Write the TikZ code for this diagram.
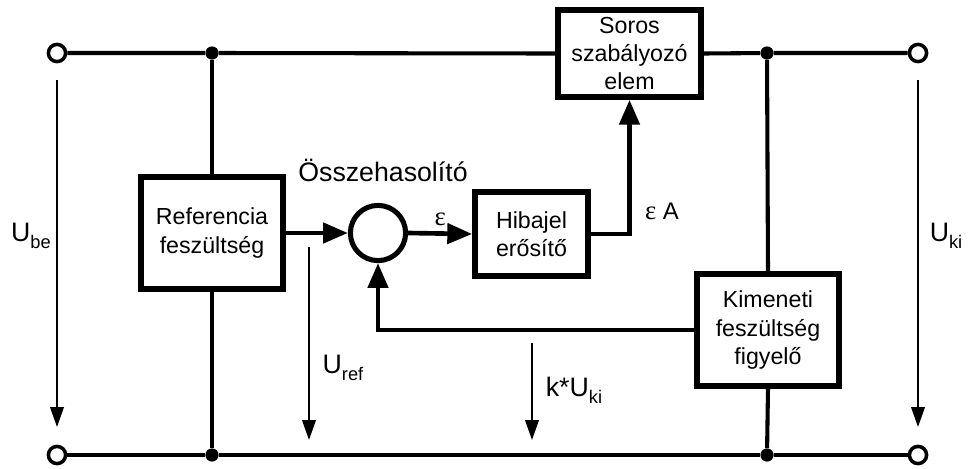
\documentclass[tikz,border=0pt]{standalone}
\usepackage{fontspec}
\setmainfont{Liberation Sans}
\newfontfamily\greekfont{Liberation Serif}
\usetikzlibrary{positioning,arrows.meta}
\newcommand{\lowsub}[1]{\raisebox{-0.5ex}{\fontsize{13}{13}\selectfont #1}}
\tikzset{
  blk/.style={rectangle, draw, line width=3.9pt, align=center, inner sep=2pt,
              font=\fontsize{16.5}{20}\selectfont},
  term/.style={circle, draw, line width=2.5pt, fill=white, minimum size=0.43cm, inner sep=0pt},
  dot/.style={circle, fill, minimum size=0.33cm, inner sep=0pt},
  wire/.style={line width=2.9pt},
  arb/.style={-{Triangle[length=0.62cm,width=0.5cm]}, line width=3.3pt},
  ar/.style={-{Triangle[length=0.5cm,width=0.34cm]}, line width=1.5pt},
  lbl/.style={font=\fontsize{19}{22}\selectfont, inner sep=1pt},
}
\begin{document}
\begin{tikzpicture}[x=0.025cm, y=-0.025cm]
  \useasboundingbox (0,0) rectangle (974,468);

  % kapcsok es csomopontok
  \node[term] (tl) at (57,53) {};
  \node[term] (tr) at (918,53) {};
  \node[term] (bl) at (57,455) {};
  \node[term] (br) at (918,455) {};
  \node[dot] (jtl) at (212,53) {};
  \node[dot] (jtr) at (767,53) {};
  \node[dot] (jbl) at (212,455) {};
  \node[dot] (jbr) at (767,455) {};

  % blokkok
  \node[blk, minimum width=3.58cm, minimum height=2.18cm] (sor) at (629.5,53.5) {Soros\\szabályozó\\elem};
  \node[blk, minimum width=3.55cm, minimum height=2.8cm] (ref) at (212,233) {Referencia\\feszültség};
  \node[circle, draw, line width=3.6pt, minimum size=1.38cm, inner sep=0pt] (cmp) at (378,233) {};
  \node[blk, minimum width=2.83cm, minimum height=2.1cm] (hib) at (531.5,234) {Hibajel\\erősítő};
  \node[blk, minimum width=3.55cm, minimum height=2.8cm] (kim) at (768,330) {Kimeneti\\feszültség\\figyelő};

  \node[font=\fontsize{19}{22}\selectfont] (cmplbl) at (383,170) {Összehasolító};

  % sinek
  \draw[wire] (tl) -- (jtl) -- (sor.west);
  \draw[wire] (sor.east) -- (jtr) -- (tr);
  \draw[wire] (bl) -- (jbl) -- (jbr) -- (br);
  \draw[wire] (jtl) -- (ref.north);
  \draw[wire] (ref.south) -- (jbl);
  \draw[wire] (jtr) -- (kim.north);
  \draw[wire] (kim.south) -- (jbr);

  % jelutak
  \draw[arb] (ref.east) -- (cmp.west);
  \draw[arb] (cmp.east) -- node[lbl, above=3pt]{\greekfont ε} (hib.west);
  \draw[arb] (hib.east) -| (sor.south);
  \node[lbl, font=\fontsize{17}{20}\selectfont] (epsa) at (662,211) {{\fontsize{19}{20}\greekfont ε} A};
  \draw[arb] (kim.west) -| (cmp.south);

  % feszultsegnyilak
  \coordinate (ube1) at (57,80);   \coordinate (ube2) at (57,427);
  \coordinate (uki1) at (918,80);  \coordinate (uki2) at (918,427);
  \coordinate (urf1) at (309,247); \coordinate (urf2) at (309,440);
  \coordinate (kuk1) at (532,343); \coordinate (kuk2) at (532,440);
  \draw[ar] (ube1) -- (ube2);
  \draw[ar] (uki1) -- (uki2);
  \draw[ar] (urf1) -- (urf2);
  \draw[ar] (kuk1) -- (kuk2);
  \node[lbl] (ube) at (31,236) {U\lowsub{be}};
  \node[lbl] (uki) at (946,236) {U\lowsub{ki}};
  \node[lbl] (urf) at (343,368) {U\lowsub{ref}};
  \node[lbl] (kuk) at (574,390) {k*U\lowsub{ki}};
\end{tikzpicture}
\end{document}
